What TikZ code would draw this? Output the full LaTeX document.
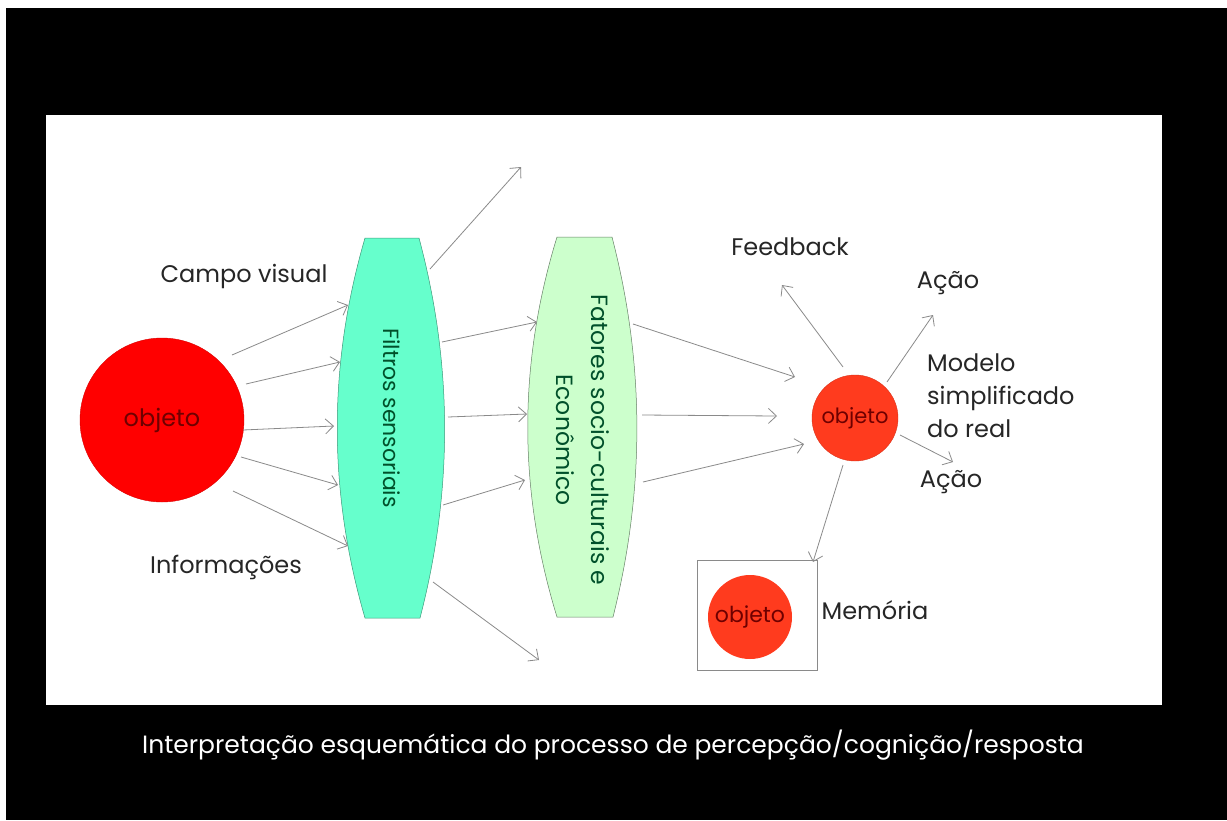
\documentclass[tikz,border=0pt]{standalone}
\usepackage{fontspec}
\setmainfont{Poppins}
\usetikzlibrary{arrows.meta}

\definecolor{verde_filtro}{HTML}{66FFCC}
\definecolor{verde_fator}{HTML}{CCFFCC}
\definecolor{verde_texto}{HTML}{00502A}
\definecolor{laranja}{HTML}{FF3B1E}
\definecolor{cinza}{HTML}{8A8A8A}
\definecolor{vinho}{HTML}{6E0000}

\tikzset{
  seta/.style={draw=cinza, line width=0.8pt, -{Straight Barb[length=8pt,width=15pt]}},
  rotulo/.style={font=\fontsize{24}{33}\selectfont, text=black!85},
  bola/.style={circle, inner sep=0pt, text=vinho, font=\fontsize{21}{22}\selectfont},
}

\begin{document}
\begin{tikzpicture}[x=1pt,y=-1pt]
\useasboundingbox (0,0) rectangle (1227,820);
\fill[white] (0,0) rectangle (1227,820);
\fill[black] (6,8) rectangle (1227,820);%fundo preto
\fill[white] (46,115) rectangle (1162,705);%quadro branco

\filldraw[fill=verde_filtro, draw=verde_filtro!60!black, line width=0.5pt] (365,238) -- (419,238) .. controls (453,365) and (453,491) .. (420,618) -- (365,618) .. controls (328,491) and (328,365) .. cycle;%lente dos filtros
\filldraw[fill=verde_fator, draw=verde_fator!50!black, line width=0.5pt] (557,237) -- (612,237) .. controls (645,364) and (645,490) .. (613,617) -- (557,617) .. controls (518,490) and (518,364) .. cycle;%lente dos fatores

\node[rotate=-90, text=verde_texto, font=\fontsize{22}{24}\selectfont] (filtros) at (392,418) {Filtros sensoriais};
\node[rotate=-90, align=center, text=verde_texto, font=\fontsize{23.5}{35}\selectfont] (fatores) at (583,440) {Fatores socio-culturais e\\Econômico};

\node[bola, fill=red, draw=red!85!black, minimum size=164, font=\fontsize{24}{24}\selectfont] (objeto) at (162,420) {objeto};%objeto real
\node[bola, fill=laranja, draw=laranja!85!black, minimum size=86] (modelo_obj) at (855,418) {objeto};%modelo
\node[draw=cinza, line width=0.8pt, minimum width=120, minimum height=110] (memoria_caixa) at (757,615) {};%caixa da memoria
\node[bola, fill=laranja, minimum size=84, font=\fontsize{22}{22}\selectfont] (memoria_obj) at (750,617) {objeto};

\node[rotulo] (campo) at (244,276) {Campo visual};
\node[rotulo] (informacoes) at (226,567) {Informações};
\node[rotulo] (feedback) at (790,247) {Feedback};
\node[rotulo] (acao_cima) at (948,283) {Ação};
\node[rotulo, align=left, anchor=west, inner sep=0pt] (modelo) at (927,396) {Modelo\\simplificado\\do real};
\node[rotulo] (acao_baixo) at (951,482) {Ação};
\node[rotulo] (memoria) at (875,610) {Memória};

\node[text=white, font=\fontsize{25}{26}\selectfont] (legenda) at (613,745) {Interpretação esquemática do processo de percepção/cognição/resposta};

% objeto -> filtros
\coordinate (obj1) at (232,355);
\coordinate (obj2) at (246,384);
\coordinate (obj3) at (243,430);
\coordinate (obj4) at (241,457);
\coordinate (obj5) at (233,491);
\coordinate (filtro_e1) at (348,305);
\coordinate (filtro_e2) at (340,362);
\coordinate (filtro_e3) at (334,426);
\coordinate (filtro_e4) at (338,485);
\coordinate (filtro_e5) at (348,546);
% filtros -> fatores
\coordinate (filtro_s1) at (430,269);
\coordinate (filtro_s2) at (442,342);
\coordinate (filtro_s3) at (448,417);
\coordinate (filtro_s4) at (443,505);
\coordinate (filtro_s5) at (433,582);
\coordinate (ponta_cima) at (521,167);
\coordinate (fator_e2) at (537,322);
\coordinate (fator_e3) at (527,414);
\coordinate (fator_e4) at (525,480);
\coordinate (ponta_baixo) at (539,660);
% fatores -> modelo
\coordinate (fator_s1) at (633,324);
\coordinate (fator_s2) at (642,415);
\coordinate (fator_s3) at (643,482);
\coordinate (modelo_e1) at (795,377);
\coordinate (modelo_e2) at (777,416);
\coordinate (modelo_e3) at (804,444);
% respostas do modelo
\coordinate (feedback_s) at (843,367);
\coordinate (feedback_p) at (782,285);
\coordinate (acao_cima_s) at (887,382);
\coordinate (acao_cima_p) at (933,315);
\coordinate (acao_baixo_s) at (900,435);
\coordinate (acao_baixo_p) at (953,462);
\coordinate (memoria_s) at (843,465);
\coordinate (memoria_p) at (813,562);

\draw[seta] (obj1) -- (filtro_e1);
\draw[seta] (obj2) -- (filtro_e2);
\draw[seta] (obj3) -- (filtro_e3);
\draw[seta] (obj4) -- (filtro_e4);
\draw[seta] (obj5) -- (filtro_e5);

\draw[seta] (filtro_s1) -- (ponta_cima);
\draw[seta] (filtro_s2) -- (fator_e2);
\draw[seta] (filtro_s3) -- (fator_e3);
\draw[seta] (filtro_s4) -- (fator_e4);
\draw[seta] (filtro_s5) -- (ponta_baixo);

\draw[seta] (fator_s1) -- (modelo_e1);
\draw[seta] (fator_s2) -- (modelo_e2);
\draw[seta] (fator_s3) -- (modelo_e3);

\draw[seta] (feedback_s) -- (feedback_p);%feedback
\draw[seta] (acao_cima_s) -- (acao_cima_p);
\draw[seta] (acao_baixo_s) -- (acao_baixo_p);
\draw[seta] (memoria_s) -- (memoria_p);%para a memoria

\end{tikzpicture}
\end{document}
